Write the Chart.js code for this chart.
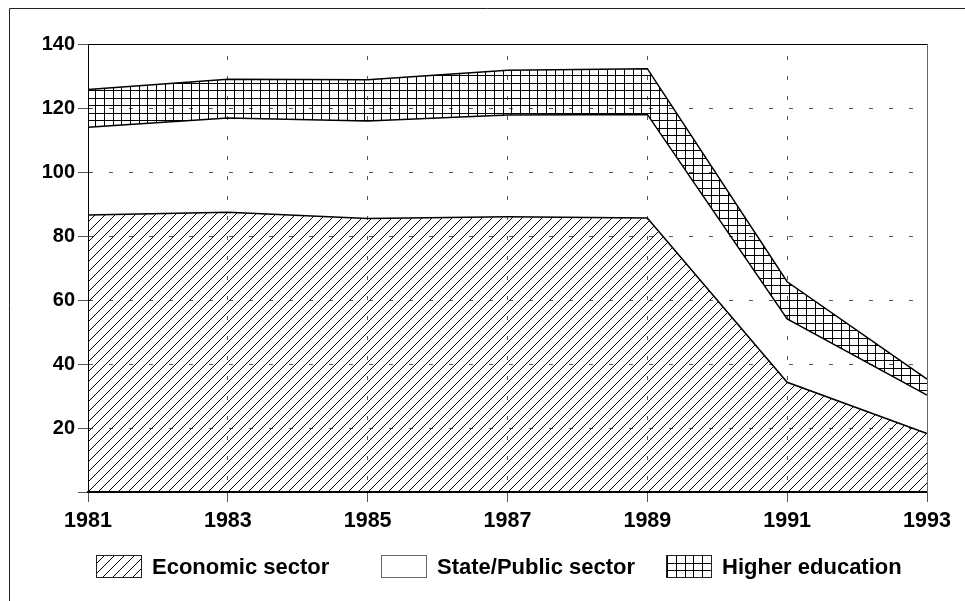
<!DOCTYPE html>
<html>
<head>
<meta charset="utf-8">
<title>Research staff by sector</title>
<script src="https://cdn.jsdelivr.net/npm/chart.js@4.4.0/dist/chart.umd.min.js"></script>
<style>
    html, body { margin: 0; padding: 0; background: #fff; }
    canvas { display: block; }
</style>
</head>
<body>
<canvas id="myChart" width="965" height="601"></canvas>
<script>
// datos
var years = ['1981', '1983', '1985', '1987', '1989', '1991', '1993'];
var economic_sector = [86.6, 87.4, 85.5, 86.0, 85.6, 34.3, 18.3];
var state_sector = [27.4, 29.5, 30.4, 31.8, 32.4, 19.8, 12.0];
var higher_education = [11.8, 12.1, 12.9, 14.0, 14.3, 11.6, 5.0];
var series_names = ['Economic sector', 'State/Public sector', 'Higher education'];

var FONT = 'Liberation Sans, Arial, sans-serif';
var myChart;

var hatch_pattern = function () {
    var c = document.createElement('canvas');
    c.width = 10;
    c.height = 10;
    var ctx = c.getContext('2d');
    ctx.strokeStyle = '#000';
    ctx.lineWidth = 1;
    ctx.beginPath();
    ctx.moveTo(0, 10); ctx.lineTo(10, 0);
    ctx.moveTo(-5, 5); ctx.lineTo(5, -5);
    ctx.moveTo(5, 15); ctx.lineTo(15, 5);
    ctx.stroke();
    return ctx.createPattern(c, 'repeat');
}

var grid_pattern = function () {
    var c = document.createElement('canvas');
    c.width = 26;
    c.height = 15;
    var ctx = c.getContext('2d');
    ctx.fillStyle = '#000';
    [0, 9, 17].forEach(x => ctx.fillRect(x, 0, 1, 15));
    [0, 8].forEach(y => ctx.fillRect(0, y, 26, 1));
    return ctx.createPattern(c, 'repeat');
}

// marco exterior del grafico
var frame = {
    id: 'frame',
    beforeDraw: function (chart) {
        var ctx = chart.ctx;
        ctx.save();
        ctx.strokeStyle = '#222';
        ctx.lineWidth = 1;
        ctx.beginPath();
        ctx.moveTo(9.5, chart.height);
        ctx.lineTo(9.5, 8.5);
        ctx.lineTo(chart.width, 8.5);
        ctx.stroke();
        ctx.restore();
    }
};

// leyenda dibujada a mano, las cajas usan el relleno de cada serie
var legend_boxes = [96, 381, 666];
var bottom_legend = {
    id: 'bottom_legend',
    afterDraw: function (chart) {
        var ctx = chart.ctx;
        ctx.save();
        ctx.font = 'bold 22px ' + FONT;
        ctx.textBaseline = 'middle';
        ctx.textAlign = 'left';
        chart.data.datasets.forEach((ds, i) => {
            var x = legend_boxes[i] + 0.5;
            var y = 555.5;
            ctx.fillStyle = '#fff';
            ctx.fillRect(x, y, 45, 22);
            ctx.fillStyle = ds.backgroundColor;
            ctx.fillRect(x, y, 45, 22);
            ctx.strokeStyle = i === 1 ? '#666' : '#222';
            ctx.lineWidth = 1;
            ctx.strokeRect(x, y, 45, 22);
            ctx.fillStyle = '#000';
            ctx.fillText(ds.label, legend_boxes[i] + 56, 568);
        });
        ctx.restore();
    }
};

var grafico_area = function () {
    var ctx = document.getElementById('myChart');
    var base = { borderColor: '#000', borderWidth: 1.5, pointRadius: 0, tension: 0 };
    myChart = new Chart(ctx, {
        type: 'line',
        data: {
            labels: years,
            datasets: [
                Object.assign({ label: series_names[0], data: economic_sector, backgroundColor: hatch_pattern(), fill: 'origin' }, base),
                Object.assign({ label: series_names[1], data: state_sector, backgroundColor: 'rgba(255,255,255,0)', fill: '-1' }, base),
                Object.assign({ label: series_names[2], data: higher_education, backgroundColor: grid_pattern(), fill: '-1' }, base)
            ]
        },
        plugins: [frame, bottom_legend],
        options: {
            responsive: false,
            animation: false,
            layout: { padding: { left: 30, right: 0, top: 0, bottom: 69 } },
            scales: {
                x: {
                    offset: false,
                    grid: { color: '#555', tickColor: '#555', tickLength: 10 },
                    border: { color: '#000', width: 2, dash: [4, 16], dashOffset: 8, z: 1 },
                    ticks: { color: '#000', padding: 6, maxRotation: 0, autoSkip: false, font: { family: FONT, size: 21.5, weight: 'bold' } },
                    afterFit: function (s) { s.height = 40; }
                },
                y: {
                    stacked: true,
                    min: 0,
                    max: 140,
                    grid: { color: '#555', tickColor: '#555', tickLength: 10 },
                    border: { color: '#000', width: 1, dash: [4, 16], z: 1 },
                    ticks: {
                        stepSize: 20,
                        padding: 3,
                        color: '#000',
                        font: { family: FONT, size: 20, weight: 'bold' },
                        callback: function (v) { return v === 0 ? '' : v; }
                    },
                    afterFit: function (s) { s.width = 58; }
                },
                x2: {
                    type: 'linear',
                    position: 'top',
                    min: 0,
                    max: 1,
                    grid: { display: false },
                    ticks: { display: false },
                    border: { color: '#000', width: 1, z: 1 },
                    afterFit: function (s) { s.height = 44; }
                },
                y2: {
                    type: 'linear',
                    position: 'right',
                    min: 0,
                    max: 1,
                    grid: { display: false },
                    ticks: { display: false },
                    border: { color: '#666', width: 1, z: 1 },
                    afterFit: function (s) { s.width = 38; }
                }
            },
            plugins: {
                tooltip: { enabled: false },
                legend: { display: false }
            }
        }
    });
}

grafico_area();
</script>
</body>
</html>
